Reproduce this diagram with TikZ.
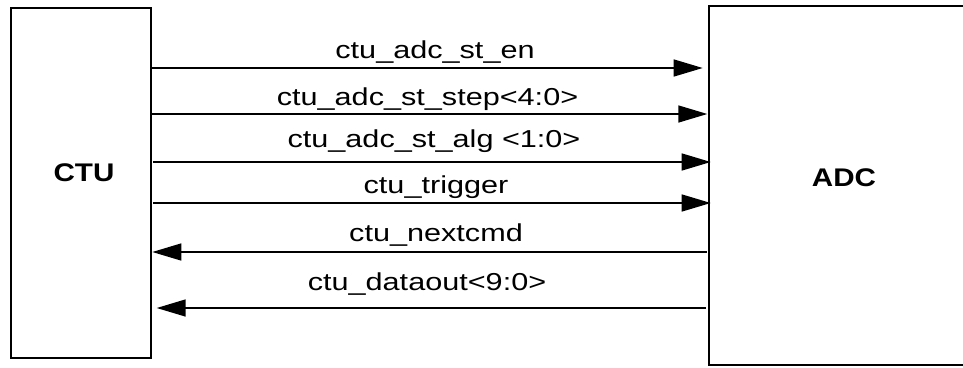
\documentclass[tikz,border=0pt]{standalone}
\usepackage{fontspec}
\usetikzlibrary{arrows.meta}
\newfontfamily\lblfont[FakeStretch=1.25]{Liberation Sans}
\newfontfamily\ttlfont[FakeStretch=1.16]{Liberation Sans}
\tikzset{
  blockbox/.style={draw, line width=1.5pt, inner sep=0pt, outer sep=0pt},
  siglabel/.style={font=\lblfont\fontsize{24.5}{28}\selectfont, anchor=base, inner sep=0pt},
  blocklabel/.style={font=\ttlfont\bfseries\fontsize{25.5}{30}\selectfont, inner sep=0pt},
  sig/.style={line width=1.5pt, -{Triangle[length=29pt,width=17pt]}},
}
\begin{document}
\begin{tikzpicture}[x=1pt,y=-1pt]
\useasboundingbox (0,0) rectangle (963,367);
% blocks
\node[blockbox, minimum width=140pt, minimum height=350pt] (ctu) at (81,183) {};
\node[blockbox, minimum width=270pt, minimum height=359pt] (adc) at (844,185.5) {};
\node[blocklabel] (ctulbl) at (84,172.5) {CTU};
\node[blocklabel] (adclbl) at (844,177.5) {ADC};
% end points
\coordinate (e1) at (702.7,68);
\coordinate (e2) at (707.3,114);
\coordinate (e3) at (710.7,162);
\coordinate (e4) at (710.7,203);
\coordinate (s5) at (706.7,252);
\coordinate (t5) at (152.3,252);
\coordinate (s6) at (705.7,308);
\coordinate (t6) at (156.7,308);
% signals
\draw[sig] (ctu.east |- e1) -- (e1);
\draw[sig] (ctu.east |- e2) -- (e2);
\draw[sig] ([xshift=2pt]ctu.east |- e3) -- (e3);
\draw[sig] ([xshift=2pt]ctu.east |- e4) -- (e4);
\draw[sig] (s5) -- (t5);
\draw[sig] (s6) -- (t6);
% labels
\node[siglabel] (l1) at (435,58) {ctu\_adc\_st\_en};
\node[siglabel] (l2) at (427.5,105) {ctu\_adc\_st\_step<4:0>};
\node[siglabel] (l3) at (434,147.5) {ctu\_adc\_st\_alg <1:0>};
\node[siglabel] (l4) at (436,193) {ctu\_trigger};
\node[siglabel] (l5) at (436,241.7) {ctu\_nextcmd};
\node[siglabel] (l6) at (427,290) {ctu\_dataout<9:0>};
\end{tikzpicture}
\end{document}
